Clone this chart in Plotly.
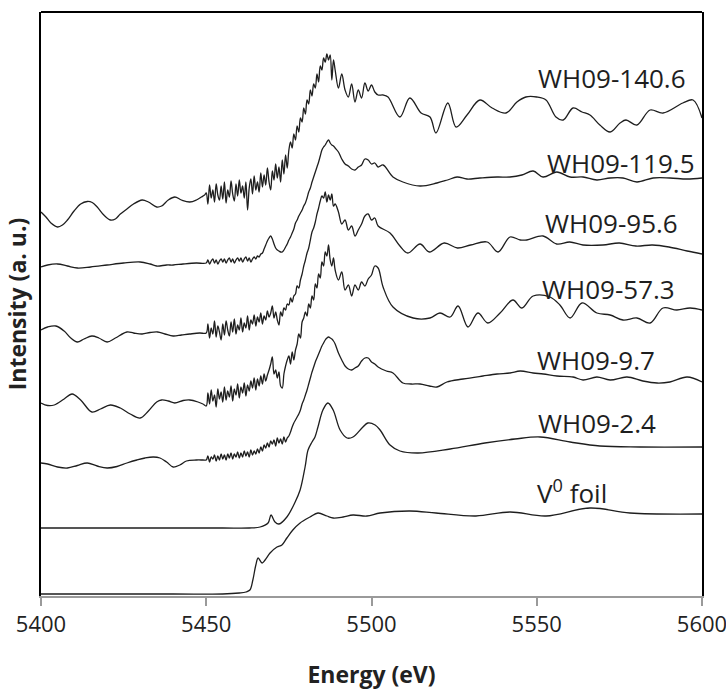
import plotly.graph_objects as go

# ---------------- data (energy in eV, intensity in arbitrary units) ----------------
# energy grid of the noisy region: 0.5 eV steps 5450-5489, then 1 eV steps 5490-5502
noise_E = [5450 + 0.5 * k for k in range(79)] + list(range(5490, 5503))

# WH09-140.6
e140_left = [5400, 5401.5, 5403, 5405, 5406.5, 5408, 5410, 5412, 5414, 5415.5, 5417, 5419, 5421, 5422.5, 5424, 5426,
             5428, 5430.6, 5432.5, 5435, 5436.5, 5438.5, 5440.5, 5442.5, 5445, 5447, 5448.5, 5449.5]
i140_left = [388, 383, 377, 373, 375, 380, 389, 396, 398.5, 397.5, 393, 385, 380, 381, 386, 391,
             396, 400, 398, 393, 394, 400, 403, 400, 398, 400, 403, 405]
i140_mid = [407, 396, 415, 402, 410, 398, 416, 405, 400, 414,
            401, 418, 397, 410, 403, 419, 406, 399, 416, 404,
            420, 407, 414, 402, 418, 390, 412, 421, 406, 424,
            410, 418, 408, 427, 413, 425, 415, 432, 418, 410,
            429, 420, 436, 422, 433, 418, 440, 426, 445, 432,
            450, 458, 452, 466, 460, 474, 468, 482, 478, 492,
            486, 500, 496, 510, 504, 516, 512, 526, 518, 534,
            530, 542, 538, 546, 540, 545, 520, 540, 530,
            512, 526, 510, 503, 516, 498, 510, 502, 517, 509, 515, 508, 505]
e140_right = [5503.5, 5505, 5508.6, 5511.6, 5515, 5517.7, 5519.5, 5523.1, 5525.6, 5528.9, 5532.8, 5536.5, 5540.7,
              5544, 5546.7, 5550, 5552.8, 5555.8, 5558, 5561, 5563.7, 5566.1, 5569.1, 5572.2, 5575.2, 5577,
              5580.3, 5584.3, 5588.2, 5594.2, 5597.3, 5600]
i140_right = [505, 503, 483, 502, 487, 483, 467, 497, 473, 485, 500, 492, 487,
              498, 503, 503, 500, 483, 480, 492, 488, 485, 475, 468, 477, 480,
              475, 490, 487, 497, 500, 482]

# WH09-119.5
e119_left = [5400, 5402, 5405, 5408, 5411, 5415, 5420, 5425, 5430, 5433, 5435, 5438, 5440, 5443, 5447]
i119_left = [333, 335, 336, 334, 332, 333, 335, 337, 338, 336, 334, 335, 335, 336, 337]
i119_mid = [337, 340, 336, 339, 341, 337, 340, 336, 339, 341,
            338, 341, 337, 340, 342, 338, 341, 337, 340, 342,
            339, 342, 338, 341, 343, 339, 342, 338, 341, 343,
            341, 344, 343, 346, 347, 351, 355, 359, 362, 364,
            361, 356, 352, 350, 349, 348, 348, 350, 353, 356,
            360, 363, 367, 371, 377, 380, 384, 387, 390, 394,
            397, 402, 408, 412, 418, 423, 428, 433, 438, 444,
            450, 453, 455, 458, 460, 457, 455, 454, 452,
            448, 441, 436, 434, 431, 430, 433, 435, 441, 440, 436, 437, 433]
e119_right = [5503.5, 5506.5, 5509.5, 5514.7, 5519.8, 5523, 5525.9, 5528.9, 5532.8, 5538, 5541.9, 5545.5, 5548.9,
              5551.9, 5556.1, 5560.1, 5564, 5568.2, 5572.2, 5576.1, 5580.3, 5585.2, 5590.3, 5595.5, 5600]
i119_right = [435, 423, 418, 414, 417, 420, 423, 421, 422, 423, 423, 425, 429,
              423, 428, 423, 423, 420, 422, 422, 418, 422, 422, 421, 422]

# WH09-95.6
e95_left = [5400, 5402, 5404.5, 5407, 5409, 5411, 5413, 5415.4, 5417.5, 5420, 5422.5, 5426, 5428, 5430.6, 5433,
            5435.3, 5437.5, 5440, 5442.5, 5445, 5448]
i95_left = [270, 273, 274, 269, 262, 258, 261, 264, 262, 258, 262, 268, 267, 266, 267.5,
            268, 266, 264, 265, 266, 267]
i95_mid = [267, 276, 262, 272, 266, 279, 263, 274, 268, 260,
           276, 265, 279, 270, 264, 278, 268, 281, 266, 275,
           270, 282, 268, 277, 272, 284, 270, 280, 276, 285,
           274, 283, 278, 287, 276, 284, 280, 289, 283, 287,
           294, 282, 288, 280, 275, 288, 284, 292, 290, 296,
           295, 302, 298, 304, 306, 314, 312, 320, 326, 334,
           340, 347, 352, 360, 368, 372, 378, 386, 392, 399,
           404, 402, 408, 398, 405, 400, 406, 394, 396,
           388, 376, 380, 370, 374, 364, 370, 376, 384, 386, 380, 382, 374]
e95_right = [5505.6, 5508.6, 5511, 5514.7, 5517.5, 5522, 5526, 5530, 5535, 5538.3, 5541.9, 5545, 5547, 5551.9,
             5556, 5560, 5564, 5570, 5575, 5580, 5585, 5590, 5595.5, 5600]
i95_right = [367, 354, 347, 356, 348, 357, 352, 355, 358, 348, 363, 360, 360, 364,
             356, 358, 355, 355, 357, 354, 355, 353, 349, 346]

# WH09-57.3
e57_left = [5400, 5402, 5404, 5407, 5409.4, 5412, 5415.4, 5418, 5421, 5424, 5427, 5430, 5432.5, 5435, 5436.5,
            5438.5, 5440.5, 5443, 5445, 5447.5, 5449]
i57_left = [197, 194.5, 195, 201, 206, 200, 188, 191, 195, 192, 186, 182, 189, 198, 200,
            199, 197, 199.5, 200, 198, 196]
i57_mid = [194, 207, 196, 210, 199, 205, 193, 211, 201, 208,
           198, 213, 200, 209, 203, 214, 199, 211, 205, 216,
           202, 213, 207, 217, 204, 215, 209, 219, 212, 222,
           210, 221, 214, 224, 216, 226, 219, 225, 230, 236,
           243, 226, 230, 222, 228, 214, 212, 226, 234, 240,
           244, 236, 248, 240, 250, 256, 266, 262, 278, 282,
           288, 284, 296, 292, 304, 300, 316, 312, 326, 322,
           338, 334, 348, 344, 355, 340, 334, 342, 330,
           320, 328, 310, 315, 304, 315, 310, 318, 314, 321, 325, 334, 332]
e57_right = [5503.5, 5506.5, 5512.6, 5517.7, 5520.7, 5523.8, 5526.2, 5529.2, 5532.2, 5535.2, 5538.9, 5542.8,
             5545.5, 5548.9, 5554, 5557, 5560.1, 5563.7, 5568.2, 5572.2, 5576.1, 5580.3, 5584.3, 5588.2,
             5592.4, 5596.4, 5600]
i57_right = [313, 293, 282, 282, 287, 283, 294, 273, 287, 277, 287, 300,
             292, 304, 303, 295, 282, 297, 287, 285, 280, 282, 277, 292,
             290, 292, 290]

# WH09-9.7
e97_left = [5400, 5402, 5405, 5408, 5411, 5414, 5417, 5420, 5423, 5426, 5429, 5431.5, 5434, 5436, 5438, 5440,
            5442, 5444, 5447, 5449]
i97_left = [137, 136, 133, 132, 134.5, 137, 134, 132, 133.5, 137, 140, 142, 143, 142, 138, 133,
            135, 139, 140, 140]
i97_mid = [140, 144, 138, 143, 141, 145, 139, 144, 140, 146,
           141, 145, 140, 146, 142, 147, 141, 146, 143, 148,
           142, 147, 143, 149, 144, 148, 143, 150, 145, 149,
           146, 151, 147, 153, 149, 155, 152, 157, 153, 159,
           156, 160, 154, 162, 157, 161, 156, 163, 158, 162,
           164, 168, 173, 177, 180, 183, 186, 190, 196, 200,
           205, 210, 216, 222, 228, 233, 238, 242, 246, 250,
           254, 257, 260, 262, 263, 262, 261, 259, 256,
           247, 240, 234, 231, 230, 232, 234, 239, 242, 242, 238, 236, 233]
e97_right = [5504.5, 5506.5, 5509.5, 5512, 5514.7, 5517.5, 5519.8, 5522.8, 5527.7, 5533.7, 5538, 5541.9, 5545,
             5548.9, 5552, 5556.1, 5561, 5564, 5568.2, 5572.2, 5577.3, 5582.1, 5586.4, 5590.3, 5595.5, 5600]
i97_right = [229, 227, 217, 216, 216, 214, 213, 218, 221, 224, 226, 227, 229,
             227, 226, 224, 223, 220, 223, 220, 223, 219, 217, 218, 223, 218]

# WH09-2.4
e24 = [5400, 5430, 5455, 5463, 5466.3, 5468.7, 5469.6, 5470.8, 5472.0, 5474.4, 5476.9, 5478.4, 5479.9, 5480.8,
       5482.0, 5482.9, 5483.8, 5485.3, 5486.8, 5488.4, 5490.5, 5492.6, 5494.4, 5497.4, 5498.9, 5501.1, 5502.6,
       5505.6, 5508.6, 5514.1, 5523.8, 5534.3, 5543.4, 5551.0, 5560.1, 5569.1, 5581.2, 5600]
i24 = [72, 72, 72, 72, 73, 77, 85, 78, 76, 83, 98, 110, 133, 150,
       158, 163, 173, 190, 197, 190, 170, 162, 163, 173, 177, 175, 170,
       155, 149, 147, 151, 157, 161, 163, 158, 154, 153, 153]

# V0 foil
efoil = [5400, 5440, 5455, 5460, 5462, 5463.2, 5464.1, 5465, 5465.7, 5466.9, 5467.8, 5469.3, 5471.4, 5472.9, 5474.4,
         5476.2, 5478.4, 5481.4, 5483.8, 5486.5, 5488.4, 5491.4, 5494.4, 5498.6, 5502.6, 5511.6, 5519.5, 5531.6,
         5541.9, 5552.8, 5566.1, 5578.2, 5600]
ifoil = [6, 6, 6, 7, 8, 10, 20, 35, 42, 37, 40, 47, 53, 55, 62,
         70, 77, 83, 87, 84, 82, 83, 85, 84, 87, 89, 87, 84,
         88, 84, 92, 87, 86]

labels = ["WH09-140.6", "WH09-119.5", "WH09-95.6", "WH09-57.3", "WH09-9.7", "WH09-2.4", "V<sup>0</sup> foil"]
x_ticks = [5400, 5450, 5500, 5550, 5600]

# ---------------- assemble ----------------
series = [
    (e140_left + noise_E + e140_right, i140_left + i140_mid + i140_right),
    (e119_left + noise_E + e119_right, i119_left + i119_mid + i119_right),
    (e95_left + noise_E + e95_right, i95_left + i95_mid + i95_right),
    (e57_left + noise_E + e57_right, i57_left + i57_mid + i57_right),
    (e97_left + noise_E + e97_right, i97_left + i97_mid + i97_right),
    (e24, i24),
    (efoil, ifoil),
]

fig = go.Figure()
for (xs, ys), name in zip(series, labels):
    fig.add_trace(go.Scatter(x=xs, y=ys, mode="lines", name=name,
                             line=dict(color="#1e1e1e", width=1.3, shape="spline", smoothing=1.0),
                             showlegend=False, hoverinfo="skip"))

# label anchors (left edge energy, vertical centre)
label_pos = [(5549.8, 522), (5552.5, 437), (5551.9, 377), (5551.0, 311), (5549.5, 240), (5549.8, 177), (5549.5, 108)]
for txt, (lx, ly) in zip(labels, label_pos):
    fig.add_annotation(x=lx, y=ly, text=txt, showarrow=False, xanchor="left", yanchor="middle",
                       font=dict(family="Open Sans", size=26, color="#1e1e1e"))

fig.update_layout(
    width=726, height=697,
    margin=dict(l=41, r=24, t=12, b=101),
    paper_bgcolor="white", plot_bgcolor="white",
    font=dict(family="Open Sans", color="#222222"),
    xaxis=dict(range=[5400, 5600], tickvals=x_ticks, ticktext=[str(v) for v in x_ticks],
               automargin=False,
               showgrid=False, zeroline=False, showline=True, linecolor="#9a9a9a", linewidth=1.5,
               ticks="outside", ticklen=8, tickwidth=1.5, tickcolor="#9a9a9a",
               ticklabeloverflow="allow",
               tickfont=dict(family="Open Sans", size=22, color="#222222"),
               title=dict(text="<b>Energy (eV)</b>", font=dict(family="Open Sans", size=23, color="#222222"),
                          standoff=30)),
    yaxis=dict(range=[4, 588], automargin=False, showgrid=False, zeroline=False, showticklabels=False, ticks="",
               showline=True, linecolor="black", linewidth=2.2, mirror=True,
               title=dict(text="<b>Intensity (a. u.)</b>", font=dict(family="Open Sans", size=23, color="#222222"),
                          standoff=6)),
)
fig.add_shape(type="line", xref="paper", yref="paper", x0=0, x1=1, y0=1, y1=1,
              line=dict(color="black", width=2.2))

fig.write_html("out.html")
